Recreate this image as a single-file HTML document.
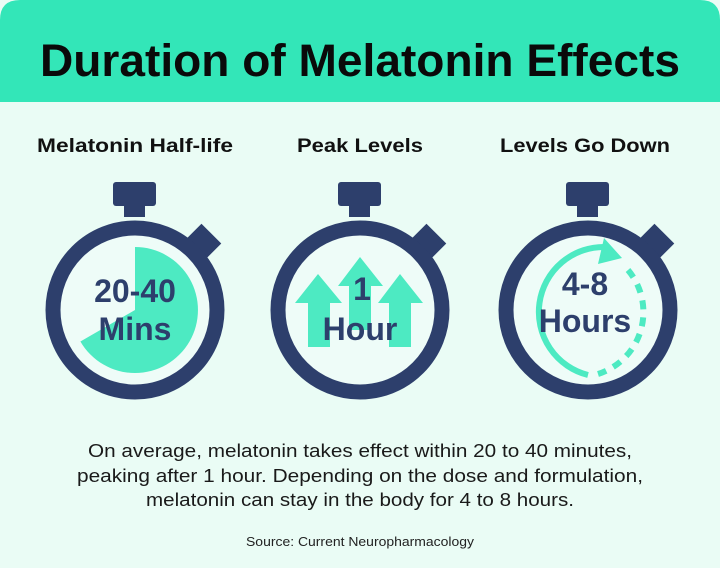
<!DOCTYPE html>
<html><head><meta charset="utf-8"><style>
body{margin:0;background:#eafcf5;}
svg{display:block}
text{font-family:"Liberation Sans",Arial,sans-serif}
</style></head><body>
<svg width="720" height="568" viewBox="0 0 720 568" xmlns="http://www.w3.org/2000/svg">
<rect width="720" height="568" fill="#eafcf5"/>
<path d="M0 102 V20 Q0 0 20 0 H700 Q720 0 720 20 V102 Z" fill="#33e6b8"/>
<text x="360" y="76" text-anchor="middle" font-size="45" font-weight="bold" fill="#0a0a0a" textLength="640" lengthAdjust="spacingAndGlyphs">Duration of Melatonin Effects</text>
<g font-size="19" font-weight="bold" fill="#111" text-anchor="middle">
<text x="135" y="152" textLength="196" lengthAdjust="spacingAndGlyphs">Melatonin Half-life</text>
<text x="360" y="152" textLength="126" lengthAdjust="spacingAndGlyphs">Peak Levels</text>
<text x="585" y="152" textLength="170" lengthAdjust="spacingAndGlyphs">Levels Go Down</text>
</g>
<defs>
<g id="w">
<rect x="-22" y="-128" width="43" height="24" rx="3" fill="#2d3f6c"/>
<rect x="-11" y="-106" width="21" height="13" fill="#2d3f6c"/>
<rect x="-14" y="-16" width="28" height="32" fill="#2d3f6c" transform="rotate(45) translate(0,-92)"/>
<circle r="82" fill="#eefcf8" stroke="#2d3f6c" stroke-width="15"/>
</g>
</defs>
<use href="#w" x="135" y="310"/>
<path d="M135 310 L135 247 A63 63 0 1 1 80.4 341.5 Z" fill="#4deac2"/>
<g font-size="32" font-weight="bold" fill="#2d3f6c" text-anchor="middle">
<text x="135" y="302">20-40</text>
<text x="135" y="340">Mins</text>
</g>
<use href="#w" x="360" y="310"/>
<g fill="#4deac2">
<path d="M295 303 L318 274 L342 303 L330 303 L330 347 L308 347 L308 303 Z"/>
<path d="M338 286 L360 257 L383 286 L371 286 L371 330 L349 330 L349 286 Z"/>
<path d="M378 303 L400 274 L423 303 L411 303 L411 347 L389 347 L389 303 Z"/>
</g>
<g font-size="32" font-weight="bold" fill="#2d3f6c" text-anchor="middle">
<text x="362" y="300">1</text>
<text x="360" y="340">Hour</text>
</g>
<use href="#w" x="588" y="310"/>
<path d="M588 375 A65 65 0 0 1 606 247" fill="none" stroke="#4deac2" stroke-width="6"/>
<path d="M604 238 L622 258 L598 264 Z" fill="#4deac2"/>
<path d="M628 270 A65 65 0 0 1 598 374" fill="none" stroke="#4deac2" stroke-width="6" stroke-dasharray="9 8"/>
<g font-size="32" font-weight="bold" fill="#2d3f6c" text-anchor="middle">
<text x="585" y="295">4-8</text>
<text x="585" y="332">Hours</text>
</g>
<g font-size="18.5" fill="#1a1a1a" text-anchor="middle">
<text x="360" y="457" textLength="544" lengthAdjust="spacingAndGlyphs">On average, melatonin takes effect within 20 to 40 minutes,</text>
<text x="360" y="482" textLength="566" lengthAdjust="spacingAndGlyphs">peaking after 1 hour. Depending on the dose and formulation,</text>
<text x="360" y="506" textLength="428" lengthAdjust="spacingAndGlyphs">melatonin can stay in the body for 4 to 8 hours.</text>
</g>
<text x="360" y="546" text-anchor="middle" font-size="12.5" fill="#222" textLength="228" lengthAdjust="spacingAndGlyphs">Source: Current Neuropharmacology</text>
</svg>
</body></html>
